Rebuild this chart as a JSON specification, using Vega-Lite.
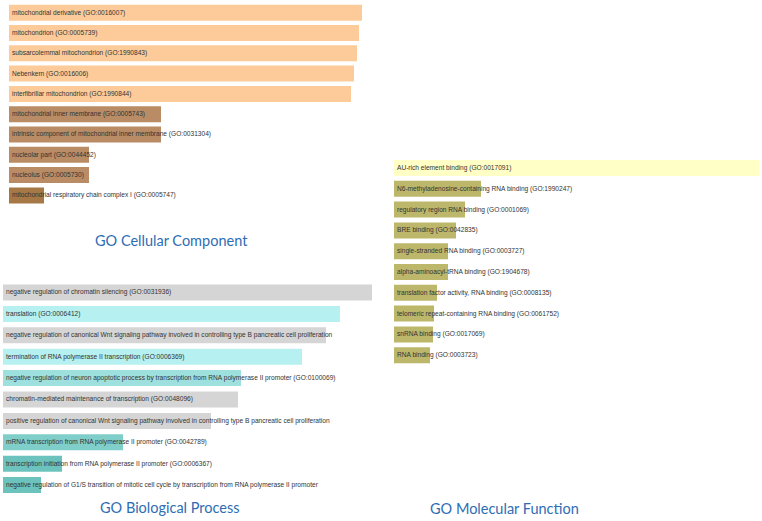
{
  "$schema": "https://vega.github.io/schema/vega-lite/v6.json",
  "padding": 0,
  "background": "white",
  "config": {
    "view": {"stroke": null},
    "concat": {"spacing": 18},
    "title": {"font": "Lato", "fontSize": 14.5, "fontWeight": "normal", "color": "#2E6DB4", "anchor": "start", "orient": "bottom"}
  },
  "datasets": {
    "cc": [
      {"rank": 1, "term": "mitochondrial derivative (GO:0016007)", "score": 353, "shade": "a"},
      {"rank": 2, "term": "mitochondrion (GO:0005739)", "score": 350, "shade": "a"},
      {"rank": 3, "term": "subsarcolemmal mitochondrion (GO:1990843)", "score": 348, "shade": "a"},
      {"rank": 4, "term": "Nebenkern (GO:0016006)", "score": 345, "shade": "a"},
      {"rank": 5, "term": "interfibrillar mitochondrion (GO:1990844)", "score": 342, "shade": "a"},
      {"rank": 6, "term": "mitochondrial inner membrane (GO:0005743)", "score": 152, "shade": "b"},
      {"rank": 7, "term": "intrinsic component of mitochondrial inner membrane (GO:0031304)", "score": 152, "shade": "b"},
      {"rank": 8, "term": "nucleolar part (GO:0044452)", "score": 80, "shade": "b"},
      {"rank": 9, "term": "nucleolus (GO:0005730)", "score": 80, "shade": "b"},
      {"rank": 10, "term": "mitochondrial respiratory chain complex I (GO:0005747)", "score": 35, "shade": "c"}
    ],
    "bp": [
      {"rank": 1, "term": "negative regulation of chromatin silencing (GO:0031936)", "score": 369, "shade": "g"},
      {"rank": 2, "term": "translation (GO:0006412)", "score": 337, "shade": "a"},
      {"rank": 3, "term": "negative regulation of canonical Wnt signaling pathway involved in controlling type B pancreatic cell proliferation", "score": 323, "shade": "g"},
      {"rank": 4, "term": "termination of RNA polymerase II transcription (GO:0006369)", "score": 299, "shade": "a"},
      {"rank": 5, "term": "negative regulation of neuron apoptotic process by transcription from RNA polymerase II promoter (GO:0100069)", "score": 238, "shade": "b"},
      {"rank": 6, "term": "chromatin-mediated maintenance of transcription (GO:0048096)", "score": 235, "shade": "g"},
      {"rank": 7, "term": "positive regulation of canonical Wnt signaling pathway involved in controlling type B pancreatic cell proliferation", "score": 208, "shade": "g"},
      {"rank": 8, "term": "mRNA transcription from RNA polymerase II promoter (GO:0042789)", "score": 120, "shade": "c"},
      {"rank": 9, "term": "transcription initiation from RNA polymerase II promoter (GO:0006367)", "score": 59, "shade": "d"},
      {"rank": 10, "term": "negative regulation of G1/S transition of mitotic cell cycle by transcription from RNA polymerase II promoter", "score": 38, "shade": "d"}
    ],
    "mf": [
      {"rank": 1, "term": "AU-rich element binding (GO:0017091)", "score": 365, "shade": "a"},
      {"rank": 2, "term": "N6-methyladenosine-containing RNA binding (GO:1990247)", "score": 87, "shade": "b"},
      {"rank": 3, "term": "regulatory region RNA binding (GO:0001069)", "score": 71, "shade": "b"},
      {"rank": 4, "term": "BRE binding (GO:0042835)", "score": 62, "shade": "b"},
      {"rank": 5, "term": "single-stranded RNA binding (GO:0003727)", "score": 54, "shade": "b"},
      {"rank": 6, "term": "alpha-aminoacyl-tRNA binding (GO:1904678)", "score": 54, "shade": "b"},
      {"rank": 7, "term": "translation factor activity, RNA binding (GO:0008135)", "score": 43, "shade": "b"},
      {"rank": 8, "term": "telomeric repeat-containing RNA binding (GO:0061752)", "score": 40, "shade": "b"},
      {"rank": 9, "term": "snRNA binding (GO:0017069)", "score": 39, "shade": "b"},
      {"rank": 10, "term": "RNA binding (GO:0003723)", "score": 36, "shade": "b"}
    ]
  },
  "resolve": {"scale": {"color": "independent"}},
  "hconcat": [
    {
      "resolve": {"scale": {"color": "independent"}},
      "vconcat": [
        {
          "width": 372,
          "height": 205,
          "data": {"name": "cc"},
          "title": {"text": "GO Cellular Component", "dx": 95, "offset": 30},
          "encoding": {
            "y": {"field": "rank", "type": "quantitative", "axis": null, "scale": {"domain": [0.374, 10.474], "reverse": true, "nice": false, "zero": false, "padding": 0}}
          },
          "layer": [
            {
              "mark": {"type": "bar", "orient": "horizontal", "size": 16},
              "encoding": {
                "x": {"field": "score", "type": "quantitative", "axis": null, "scale": {"domain": [-9, 363], "nice": false, "zero": false}},
                "x2": {"datum": 0},
                "color": {"field": "shade", "type": "nominal", "legend": null, "scale": {"domain": ["a", "b", "c"], "range": ["#FCCB99", "#B98C65", "#A67845"]}}
              }
            },
            {
              "mark": {"type": "text", "align": "left", "baseline": "middle", "dx": 3, "font": "Liberation Sans", "fontSize": 6.6, "color": "#333333"},
              "encoding": {
                "x": {"datum": 0, "type": "quantitative"},
                "text": {"field": "term"}
              }
            }
          ]
        },
        {
          "width": 372,
          "height": 216,
          "data": {"name": "bp"},
          "title": {"text": "GO Biological Process", "dx": 100, "offset": 6},
          "encoding": {
            "y": {"field": "rank", "type": "quantitative", "axis": null, "scale": {"domain": [0.416, 10.51], "reverse": true, "nice": false, "zero": false, "padding": 0}}
          },
          "layer": [
            {
              "mark": {"type": "bar", "orient": "horizontal", "size": 16},
              "encoding": {
                "x": {"field": "score", "type": "quantitative", "axis": null, "scale": {"domain": [-3, 369], "nice": false, "zero": false}},
                "x2": {"datum": 0},
                "color": {"field": "shade", "type": "nominal", "legend": null, "scale": {"domain": ["g", "a", "b", "c", "d"], "range": ["#D5D5D5", "#B6F0F0", "#9EE0DE", "#80CECA", "#6CC3BD"]}}
              }
            },
            {
              "mark": {"type": "text", "align": "left", "baseline": "middle", "dx": 3, "font": "Liberation Sans", "fontSize": 6.6, "color": "#333333"},
              "encoding": {
                "x": {"datum": 0, "type": "quantitative"},
                "text": {"field": "term"}
              }
            }
          ]
        }
      ],
      "spacing": 31
    },
    {
      "width": 372,
      "height": 496,
      "data": {"name": "mf"},
      "title": {"text": "GO Molecular Function", "dx": 40, "offset": 7},
      "encoding": {
        "y": {"field": "rank", "type": "quantitative", "axis": null, "scale": {"domain": [-7.077, 16.77], "reverse": true, "nice": false, "zero": false, "padding": 0}}
      },
      "layer": [
        {
          "mark": {"type": "bar", "orient": "horizontal", "size": 16},
          "encoding": {
            "x": {"field": "score", "type": "quantitative", "axis": null, "scale": {"domain": [-4, 368], "nice": false, "zero": false}},
            "x2": {"datum": 0},
            "color": {"field": "shade", "type": "nominal", "legend": null, "scale": {"domain": ["a", "b"], "range": ["#FFFFC6", "#BCB76B"]}}
          }
        },
        {
          "mark": {"type": "text", "align": "left", "baseline": "middle", "dx": 3, "font": "Liberation Sans", "fontSize": 6.6, "color": "#333333"},
          "encoding": {
            "x": {"datum": 0, "type": "quantitative"},
            "text": {"field": "term"}
          }
        }
      ]
    }
  ]
}
